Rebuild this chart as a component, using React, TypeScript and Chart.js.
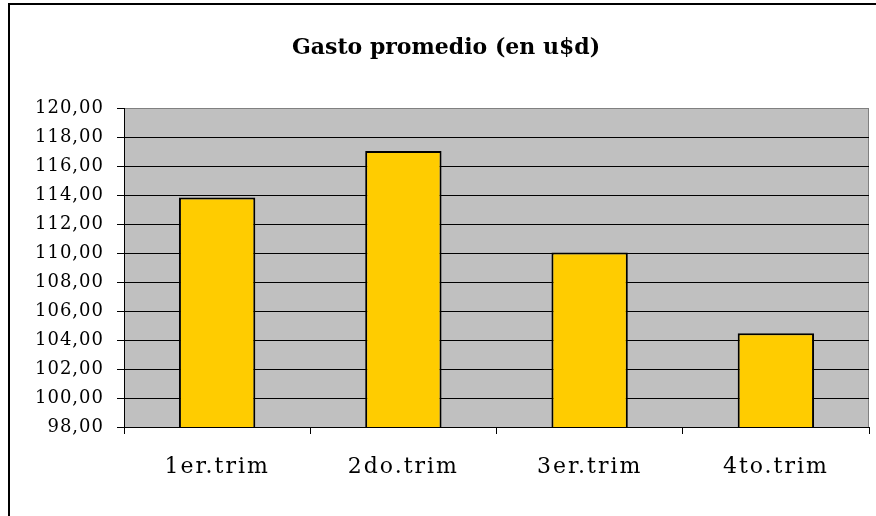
import React, { useEffect, useRef } from "react";
import { Chart, registerables } from "chart.js";

Chart.register(...registerables);

const categories = ["1er.trim", "2do.trim", "3er.trim", "4to.trim"];
const gastoPromedio = [113.85, 117.05, 110.05, 104.48];
const yMin = 98;
const yMax = 120;
const yStep = 2;
const titleText = "Gasto promedio (en u$d)";

const FONT = "'DejaVu Serif', 'Liberation Serif', serif";

const framePlugin = {
  id: "frame",
  beforeDraw(chart: any) {
    const { ctx, chartArea, width, height } = chart;
    const spacing: Record<string, string> = { x: "2px", y: "1px" };
    Object.keys(spacing).forEach((id) => {
      const s = chart.scales[id];
      if (s && !s.__spaced) {
        const orig = s.drawLabels.bind(s);
        s.drawLabels = (area: any) => {
          const c = s.ctx;
          c.save();
          (c as any).letterSpacing = spacing[id];
          orig(area);
          c.restore();
        };
        s.__spaced = true;
      }
    });
    ctx.save();
    ctx.fillStyle = "#ffffff";
    ctx.fillRect(0, 0, width, height);
    ctx.fillStyle = "#000000";
    ctx.fillRect(8, 3, 2, height);
    ctx.fillRect(8, 3, width, 2);
    ctx.fillStyle = "#C0C0C0";
    ctx.fillRect(chartArea.left, chartArea.top, chartArea.right - chartArea.left, chartArea.bottom - chartArea.top);
    ctx.strokeStyle = "#808080";
    ctx.lineWidth = 1;
    ctx.beginPath();
    ctx.moveTo(chartArea.right - 0.5, chartArea.top);
    ctx.lineTo(chartArea.right - 0.5, chartArea.bottom);
    ctx.stroke();
    ctx.restore();
  },
};

export default function App() {
  const ref = useRef<HTMLCanvasElement | null>(null);
  useEffect(() => {
    document.body.style.margin = "0";
    document.body.style.overflow = "hidden";
    const chart = new Chart(ref.current as HTMLCanvasElement, {
      type: "bar",
      data: {
        labels: categories,
        datasets: [
          {
            data: gastoPromedio,
            backgroundColor: "#FFCC00",
            borderColor: "#000000",
            borderWidth: 2,
            categoryPercentage: 1,
            barPercentage: 0.41,
          },
        ],
      },
      options: {
        animation: false,
        responsive: false,
        layout: { padding: { left: 23, right: 7, top: 0, bottom: 0 } },
        plugins: {
          legend: { display: false },
          tooltip: { enabled: false },
          title: {
            display: true,
            text: titleText,
            color: "#000",
            font: { family: FONT, size: 22, weight: "bold" },
            padding: { top: 35, bottom: 47 },
          },
        },
        scales: {
          x: {
            grid: {
              offset: true,
              drawOnChartArea: false,
              drawTicks: true,
              tickLength: 7,
              color: "#000",
            },
            border: { color: "#000", width: 1 },
            ticks: {
              color: "#000",
              font: { family: FONT, size: 22 },
              padding: 20,
              maxRotation: 0,
            },
            afterFit(scale: any) {
              scale.height = 89;
            },
          },
          y: {
            min: yMin,
            max: yMax,
            grid: {
              color: (c: any) => (c.tick && c.tick.value === yMax ? "#808080" : "#000"),
              tickColor: "#000",
              tickLength: 7,
              lineWidth: 1,
            },
            border: { color: "#000", width: 1 },
            ticks: {
              stepSize: yStep,
              color: "#000",
              padding: 13,
              font: { family: FONT, size: 18 },
              callback: (v: any) => Number(v).toFixed(2).replace(".", ","),
            },
            afterFit(scale: any) {
              scale.width = 101;
            },
          },
        },
      },
      plugins: [framePlugin],
    });
    return () => chart.destroy();
  }, []);
  return <canvas ref={ref} width={876} height={516} style={{ display: "block" }} />;
}
